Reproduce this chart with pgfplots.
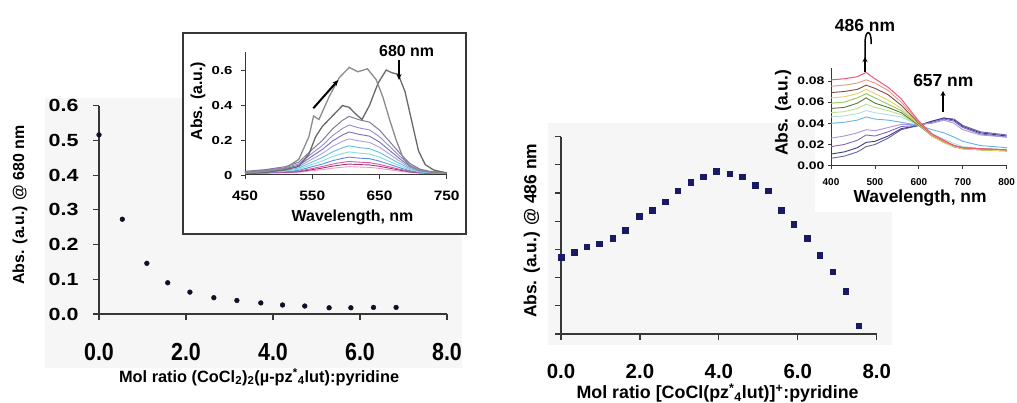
\documentclass[border=0pt]{standalone}
\usepackage{pgfplots}
\pgfplotsset{compat=1.18}
\usepackage{pgfplotstable}
\usepackage{fontspec}
\setmainfont{Liberation Sans}
\usepackage{graphicx}
\usetikzlibrary{arrows.meta}
\pgfplotsset{/pgf/number format/assume math mode=true}

\definecolor{axcol}{RGB}{55,55,55}
\definecolor{bgcol}{RGB}{246,246,246}
\definecolor{dotcol}{RGB}{15,15,40}
\definecolor{sqcol}{RGB}{25,25,100}
\definecolor{cp10}{RGB}{240,150,200}
\definecolor{cp9}{RGB}{150,60,110}
\definecolor{cp8}{RGB}{220,80,170}
\definecolor{cp7}{RGB}{90,140,230}
\definecolor{cp6}{RGB}{130,220,225}
\definecolor{cp5}{RGB}{100,190,220}
\definecolor{cp4}{RGB}{170,160,220}
\definecolor{cp3}{RGB}{120,110,190}
\definecolor{cp2}{RGB}{150,140,200}
\definecolor{cp1}{RGB}{130,120,160}
\definecolor{cB}{RGB}{105,105,105}
\definecolor{cA}{RGB}{140,140,140}
\definecolor{cl4}{RGB}{110,100,150}
\definecolor{cl3}{RGB}{60,60,140}
\definecolor{cl2}{RGB}{130,100,200}
\definecolor{cl1}{RGB}{170,150,220}
\definecolor{cl0}{RGB}{100,180,230}
\definecolor{cu8}{RGB}{170,225,225}
\definecolor{cu7}{RGB}{190,225,140}
\definecolor{cu6}{RGB}{90,120,60}
\definecolor{cu5}{RGB}{150,200,90}
\definecolor{cu4}{RGB}{230,210,110}
\definecolor{cu3}{RGB}{120,80,70}
\definecolor{cu2}{RGB}{235,150,130}
\definecolor{cu1}{RGB}{235,90,120}
\newcommand{\fs}[1]{\fontsize{#1}{#1}\selectfont\bfseries}

% left main: absorbance at 680 nm vs mol ratio
\pgfplotstableread{
x y
0 0.516
0.536 0.273
1.10 0.146
1.58 0.090
2.09 0.063
2.64 0.047
3.17 0.039
3.72 0.032
4.22 0.026
4.73 0.023
5.29 0.018
5.79 0.018
6.31 0.019
6.83 0.019
}\leftmain

% right main: absorbance at 486 nm (arbitrary units) vs mol ratio
\pgfplotstableread{
x y
0 2.72
0.33 2.90
0.65 3.10
0.97 3.20
1.31 3.40
1.63 3.69
1.98 4.18
2.31 4.40
2.64 4.69
2.96 5.09
3.29 5.39
3.61 5.58
3.94 5.78
4.27 5.69
4.59 5.58
4.92 5.27
5.25 5.08
5.58 4.40
5.90 3.89
6.24 3.40
6.56 2.80
6.88 2.21
7.21 1.51
7.54 0.30
}\rightmain

% left inset: two main spectra
\pgfplotstableread{
lam a
450 0.010
480 0.020
510 0.040
530 0.090
545 0.220
552 0.340
560 0.320
575 0.450
590 0.560
605 0.620
618 0.595
632 0.612
645 0.550
655 0.450
665 0.320
675 0.200
685 0.100
695 0.050
710 0.025
730 0.015
750 0.010
}\specA
\pgfplotstableread{
lam b
450 0.010
480 0.015
510 0.030
530 0.050
545 0.120
555 0.220
565 0.280
580 0.340
595 0.400
605 0.390
615 0.350
624 0.320
635 0.400
648 0.530
660 0.605
668 0.590
678 0.580
688 0.480
698 0.310
708 0.140
718 0.060
730 0.030
750 0.010
}\specB
% left inset: lower spectra
\pgfplotstableread{
lam p1 p2 p3 p4 p5 p6 p7 p8 p9 p10
450 .021 .019 .018 .016 .014 .013 .012 .011 .010 .010
480 .031 .028 .025 .022 .019 .017 .015 .013 .012 .011
510 .048 .042 .037 .032 .027 .023 .019 .016 .015 .013
530 .074 .064 .056 .048 .040 .033 .027 .022 .019 .016
550 .147 .126 .109 .092 .075 .061 .048 .037 .031 .025
565 .199 .170 .147 .124 .101 .081 .063 .049 .040 .031
580 .265 .226 .195 .164 .133 .106 .082 .063 .051 .039
595 .315 .268 .231 .194 .157 .124 .096 .073 .059 .045
605 .338 .288 .248 .208 .168 .133 .103 .078 .063 .048
620 .318 .271 .234 .196 .158 .126 .097 .074 .060 .046
635 .305 .260 .224 .188 .152 .121 .094 .071 .058 .044
650 .259 .221 .190 .160 .130 .103 .080 .061 .050 .038
665 .193 .165 .142 .120 .098 .078 .061 .047 .039 .030
680 .127 .109 .094 .080 .066 .053 .042 .033 .028 .022
695 .067 .058 .051 .044 .037 .031 .025 .021 .018 .015
710 .034 .030 .027 .024 .021 .018 .016 .014 .012 .011
725 .021 .019 .018 .016 .014 .013 .012 .011 .010 .010
750 .015 .014 .013 .012 .011 .011 .010 .009 .009 .009
}\leftspec

% right inset spectra
\pgfplotstableread{
lam u1 u2 u3 u4 u5 u6 u7 u8 l0 l1 l2 l3 l4
400 .081 .075 .069 .064 .059 .054 .050 .046 .040 .026 .018 .011 .007
430 .082 .076 .070 .065 .060 .055 .051 .047 .041 .028 .020 .013 .009
460 .084 .078 .072 .068 .064 .059 .054 .049 .043 .031 .024 .017 .013
480 .088 .081 .076 .072 .068 .064 .058 .052 .046 .034 .029 .022 .018
500 .082 .078 .073 .068 .064 .059 .055 .050 .044 .033 .028 .023 .020
530 .074 .071 .067 .062 .058 .055 .052 .048 .043 .036 .032 .028 .026
560 .063 .060 .057 .054 .052 .050 .048 .046 .041 .039 .037 .035 .034
600 .042 .041 .040 .039 .039 .038 .038 .038 .038 .039 .038 .038 .038
630 .030 .029 .029 .028 .028 .028 .028 .030 .034 .040 .041 .042 .042
657 .024 .023 .023 .022 .022 .022 .022 .025 .031 .043 .044 .045 .045
680 .019 .019 .019 .018 .018 .018 .018 .021 .027 .040 .042 .043 .044
700 .017 .017 .017 .016 .016 .016 .016 .018 .023 .034 .036 .037 .038
740 .016 .016 .016 .015 .015 .015 .015 .016 .019 .029 .030 .031 .032
800 .015 .015 .015 .014 .014 .014 .014 .015 .017 .027 .027 .028 .029
}\rightspec

\begin{document}
\begin{tikzpicture}[x=1bp,y=1bp]
\useasboundingbox (0,0) rectangle (1017,402);
\fill[bgcol] (45,34) rectangle (462,304);
\fill[bgcol] (548,57) rectangle (892,279);

% ---------- left main ----------
\begin{axis}[at={(99bp,88bp)}, anchor=south west, scale only axis,
  width=348bp, height=208.3bp, xmin=0, xmax=8, ymin=0, ymax=0.6,
  axis lines=left, axis line style={-, line width=1.3bp, axcol},
  tick align=outside, major tick length=6bp,
  tick style={line width=1.2bp, axcol},
  xtick={0,2,4,6,8}, ytick={0,0.1,0.2,0.3,0.4,0.5,0.6},
  scaled ticks=false,
  xticklabel={\scalebox{1}[1.15]{\pgfmathprintnumber[fixed,fixed zerofill,precision=1]{\tick}}},
  yticklabel={\scalebox{1}[0.82]{\pgfmathprintnumber[fixed,fixed zerofill,precision=1]{\tick}}},
  xticklabel style={font=\fs{21.5}, yshift=-20bp},
  yticklabel style={font=\fs{21.5}, xshift=-11bp},
  xlabel={Mol ratio (CoCl\textsubscript{2})\textsubscript{2}(µ-pz\textsuperscript{*}\textsubscript{4}lut):pyridine},
  ylabel={Abs. (a.u.) @ 680 nm},
  xlabel style={font=\fs{16.4}, at={(axis description cs:0.46,-0.302)}, anchor=center},
  ylabel style={font=\fs{16}, at={(axis description cs:-0.227,0.523)}, anchor=center},
  clip=false]
\addplot[only marks, mark=*, mark size=2.4bp, color=dotcol] table[x=x,y=y]{\leftmain};
\end{axis}

% ---------- right main ----------
\begin{axis}[at={(561bp,68bp)}, anchor=south west, scale only axis,
  width=315.7bp, height=197.3bp, xmin=0, xmax=8, ymin=0, ymax=7,
  axis lines=left, axis line style={-, line width=1.3bp, axcol},
  tick align=outside, major tick length=6bp,
  tick style={line width=1.2bp, axcol},
  xtick={0,2,4,6,8}, ytick={0,1,2,3,4,5,6,7},
  scaled ticks=false,
  xticklabel={\pgfmathprintnumber[fixed,fixed zerofill,precision=1]{\tick}},
  yticklabel=\empty,
  xticklabel style={font=\fs{20.5}, yshift=-21bp},
  xlabel={Mol ratio [CoCl(pz\textsuperscript{*}\textsubscript{4}lut)]\textsuperscript{+}:pyridine},
  ylabel={Abs. (a.u.) @ 486 nm},
  xlabel style={font=\fs{17.9}, at={(axis description cs:0.496,-0.299)}, anchor=center},
  ylabel style={font=\fs{17.5}, at={(axis description cs:-0.092,0.523)}, anchor=center},
  clip=false]
\addplot[only marks, mark=square*, mark size=2.8bp, color=sqcol] table[x=x,y=y]{\rightmain};
\end{axis}

% ---------- left inset ----------
\filldraw[fill=white, draw=axcol, line width=1.3bp] (183,168) rectangle (466,369);
\begin{axis}[at={(245bp,227bp)}, anchor=south west, scale only axis,
  width=201.7bp, height=123.2bp, xmin=450, xmax=750, ymin=0, ymax=0.71,
  axis lines=left, axis line style={-, line width=1bp, axcol},
  tick align=outside, major tick length=4bp,
  tick style={line width=0.9bp, axcol},
  xtick={450,550,650,750}, ytick={0,0.2,0.4,0.6},
  scaled ticks=false,
  xticklabel={\scalebox{1}[0.88]{\pgfmathprintnumber{\tick}}},
  yticklabel={\scalebox{1}[0.78]{\pgfmathprintnumber{\tick}}},
  xticklabel style={font=\fs{15.5}, yshift=-8bp},
  yticklabel style={font=\fs{15}, xshift=-5bp},
  xlabel={Wavelength, nm}, ylabel={Abs. (a.u.)},
  xlabel style={font=\fs{16}, at={(axis description cs:0.533,-0.343)}, anchor=center},
  ylabel style={font=\fs{16}, at={(axis description cs:-0.233,0.60)}, anchor=center},
  clip=false]
\addplot[color=cp10, line width=0.9bp] table[x=lam,y=p10]{\leftspec};
\addplot[color=cp9, line width=0.9bp] table[x=lam,y=p9]{\leftspec};
\addplot[color=cp8, line width=0.9bp] table[x=lam,y=p8]{\leftspec};
\addplot[color=cp7, line width=0.9bp] table[x=lam,y=p7]{\leftspec};
\addplot[color=cp6, line width=0.9bp] table[x=lam,y=p6]{\leftspec};
\addplot[color=cp5, line width=0.9bp] table[x=lam,y=p5]{\leftspec};
\addplot[color=cp4, line width=0.9bp] table[x=lam,y=p4]{\leftspec};
\addplot[color=cp3, line width=0.9bp] table[x=lam,y=p3]{\leftspec};
\addplot[color=cp2, line width=0.9bp] table[x=lam,y=p2]{\leftspec};
\addplot[color=cp1, line width=1bp] table[x=lam,y=p1]{\leftspec};
\addplot[color=cB, line width=1.3bp] table[x=lam,y=b]{\specB};
\addplot[color=cA, line width=1.3bp] table[x=lam,y=a]{\specA};
\end{axis}

% ---------- right inset ----------
\fill[white] (815,190) rectangle (1017,402);
\begin{axis}[at={(831bp,236.3bp)}, anchor=south west, scale only axis,
  width=175.7bp, height=97.5bp, xmin=400, xmax=800, ymin=0, ymax=0.092,
  axis lines=left, axis line style={-, line width=1bp, axcol},
  tick align=outside, major tick length=3bp,
  tick style={line width=0.8bp, axcol},
  xtick={400,500,600,700,800}, ytick={0,0.02,0.04,0.06,0.08},
  scaled ticks=false,
  xticklabel={\pgfmathprintnumber{\tick}},
  yticklabel={\scalebox{1}[0.78]{\pgfmathprintnumber[fixed,fixed zerofill,precision=2]{\tick}}},
  xticklabel style={font=\fs{10}, yshift=-6bp},
  yticklabel style={font=\fs{14}, xshift=0bp},
  xlabel={Wavelength, nm}, ylabel={Abs. (a.u.)},
  xlabel style={font=\fs{17.5}, at={(axis description cs:0.507,-0.331)}, anchor=center},
  ylabel style={font=\fs{17.5}, at={(axis description cs:-0.273,0.54)}, anchor=center},
  clip=false]
\addplot[color=cl4, line width=0.9bp] table[x=lam,y=l4]{\rightspec};
\addplot[color=cl3, line width=0.9bp] table[x=lam,y=l3]{\rightspec};
\addplot[color=cl2, line width=0.9bp] table[x=lam,y=l2]{\rightspec};
\addplot[color=cl1, line width=0.9bp] table[x=lam,y=l1]{\rightspec};
\addplot[color=cl0, line width=0.9bp] table[x=lam,y=l0]{\rightspec};
\addplot[color=cu8, line width=0.9bp] table[x=lam,y=u8]{\rightspec};
\addplot[color=cu7, line width=0.9bp] table[x=lam,y=u7]{\rightspec};
\addplot[color=cu6, line width=0.9bp] table[x=lam,y=u6]{\rightspec};
\addplot[color=cu5, line width=0.9bp] table[x=lam,y=u5]{\rightspec};
\addplot[color=cu4, line width=0.9bp] table[x=lam,y=u4]{\rightspec};
\addplot[color=cu3, line width=0.9bp] table[x=lam,y=u3]{\rightspec};
\addplot[color=cu2, line width=0.9bp] table[x=lam,y=u2]{\rightspec};
\addplot[color=cu1, line width=1bp] table[x=lam,y=u1]{\rightspec};
\end{axis}

% ---------- annotations ----------
\node[font=\fs{16}] at (406.7,351.3) {680 nm};
\draw[-{Stealth[length=6bp,width=5bp]}, line width=1.6bp, black] (399,342) -- (399,322);
\draw[-{Stealth[length=6bp,width=5bp]}, line width=2bp, black] (313.3,293.7) -- (338.3,322);
\node[font=\fs{17.5}] at (865,377) {486 nm};
\draw[-{Stealth[length=5bp,width=5bp]}, line width=1.5bp, black] (865,330) -- (865,345);
\draw[line width=1.5bp, black] (865,343) -- (865,359) .. controls (865,373) and (872,373) .. (871,358);
\node[font=\fs{17.5}] at (943.3,322) {657 nm};
\draw[-{Stealth[length=5bp,width=5bp]}, line width=1.5bp, black] (943,290.3) -- (943,311);
\end{tikzpicture}
\end{document}
